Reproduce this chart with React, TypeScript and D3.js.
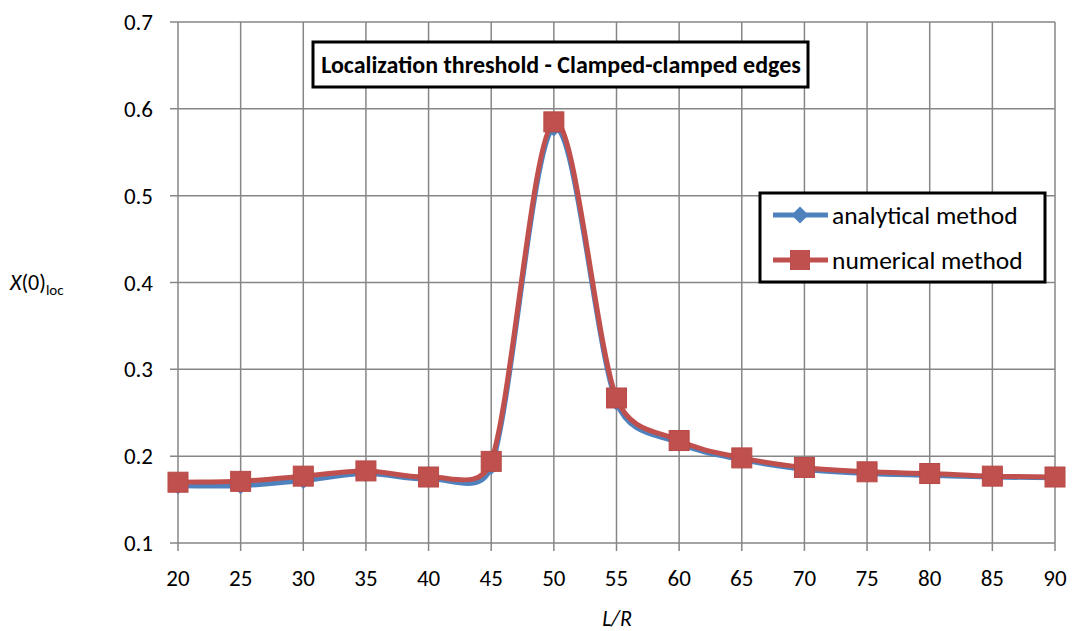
import React from 'react';
import * as d3 from 'd3';

const lengthRatios = [20, 25, 30, 35, 40, 45, 50, 55, 60, 65, 70, 75, 80, 85, 90];
const analytical = [0.166, 0.166, 0.172, 0.180, 0.174, 0.188, 0.578, 0.262, 0.215, 0.196, 0.185, 0.180, 0.178, 0.176, 0.175];
const numerical = [0.170, 0.171, 0.177, 0.183, 0.176, 0.194, 0.585, 0.267, 0.218, 0.198, 0.187, 0.182, 0.180, 0.177, 0.176];
const yTicks = [0.1, 0.2, 0.3, 0.4, 0.5, 0.6, 0.7];

const width = 1075;
const height = 631;
const font = 'Carlito, Calibri, Lato, sans-serif';

type Pt = [number, number];
const dist = (a: Pt, b: Pt) => Math.hypot(b[0] - a[0], b[1] - a[1]);

// spreadsheet-style smoothing: cardinal bezier, handles capped at half a segment
function smoothPath(pts: Pt[]) {
  const p = d3.path();
  p.moveTo(pts[0][0], pts[0][1]);
  for (let i = 0; i < pts.length - 1; i++) {
    const p0 = pts[Math.max(0, i - 1)];
    const p1 = pts[i];
    const p2 = pts[i + 1];
    const p3 = pts[Math.min(pts.length - 1, i + 2)];
    const d12 = dist(p1, p2);
    const d02 = dist(p0, p2);
    const d13 = dist(p1, p3);
    let f1 = p0 === p1 ? 1 / 3 : 1 / 6;
    let f2 = p2 === p3 ? 1 / 3 : 1 / 6;
    if (d02 * f1 > d12 / 2) f1 = d12 / (2 * d02);
    if (d13 * f2 > d12 / 2) f2 = d12 / (2 * d13);
    p.bezierCurveTo(
      p1[0] + (p2[0] - p0[0]) * f1, p1[1] + (p2[1] - p0[1]) * f1,
      p2[0] - (p3[0] - p1[0]) * f2, p2[1] - (p3[1] - p1[1]) * f2,
      p2[0], p2[1]
    );
  }
  return p.toString();
}

export default function App() {
  const x = d3.scaleLinear().domain([20, 90]).range([178, 1055]);
  const y = d3.scaleLinear().domain([0.1, 0.7]).range([543, 22]);

  const toPts = (vals: number[]): Pt[] => vals.map((v, i) => [x(lengthRatios[i]), y(v)]);

  const grid = '#868686';

  return (
    <svg width={width} height={height} style={{ position: 'absolute', left: 0, top: 0 }} fontFamily={font}>
      <rect width={width} height={height} fill="#fff" />
      {/* grid */}
      {yTicks.map(t => (
        <g key={'y' + t}>
          <line x1={170} x2={1055} y1={y(t)} y2={y(t)} stroke={grid} strokeWidth={1.5} />
          <text x={153} y={y(t)} dy="0.35em" textAnchor="end" fontSize={23}>{t.toFixed(1)}</text>
        </g>
      ))}
      {lengthRatios.map(v => (
        <g key={'x' + v}>
          <line x1={x(v)} x2={x(v)} y1={22} y2={551} stroke={grid} strokeWidth={1.5} />
          <text x={x(v)} y={586} textAnchor="middle" fontSize={23}>{v}</text>
        </g>
      ))}

      {/* series */}
      <path d={smoothPath(toPts(analytical))} fill="none" stroke="#4F81BD" strokeWidth={5} />
      {analytical.map((d, i) => (
        <rect key={'a' + i} x={-6} y={-6} width={12} height={12} fill="#4F81BD"
          transform={`translate(${x(lengthRatios[i])},${y(d)}) rotate(45)`} />
      ))}
      <path d={smoothPath(toPts(numerical))} fill="none" stroke="#C0504D" strokeWidth={5} />
      {numerical.map((d, i) => (
        <rect key={'n' + i} x={x(lengthRatios[i]) - 10} y={y(d) - 10} width={20} height={20}
          fill="#C0504D" stroke="#B84A47" strokeWidth={1} />
      ))}

      {/* title */}
      <rect x={313} y={42} width={495} height={45} fill="#fff" stroke="#000" strokeWidth={3} />
      <text x={561} y={65} dy="0.35em" textAnchor="middle" fontSize={24} fontWeight="bold">
        Localization threshold - Clamped-clamped edges
      </text>

      {/* legend */}
      <rect x={760} y={193} width={285} height={89} fill="#fff" stroke="#000" strokeWidth={3} />
      <line x1={773} x2={828} y1={215} y2={215} stroke="#4F81BD" strokeWidth={5} />
      <rect x={-6} y={-6} width={12} height={12} fill="#4F81BD" transform="translate(800,215) rotate(45)" />
      <text x={832} y={215} dy="0.35em" fontSize={25.5}>analytical method</text>
      <line x1={773} x2={828} y1={260} y2={260} stroke="#C0504D" strokeWidth={5} />
      <rect x={790} y={250} width={20} height={20} fill="#C0504D" />
      <text x={832} y={260} dy="0.35em" fontSize={25.5}>numerical method</text>

      {/* axis titles */}
      <text x={10} y={282} dy="0.35em" fontSize={22}>
        <tspan fontStyle="italic">X</tspan>(0)<tspan fontSize={15} dy={5}>loc</tspan>
      </text>
      <text x={617} y={618} dy="0.35em" textAnchor="middle" fontSize={22} fontStyle="italic">L/R</text>
    </svg>
  );
}
